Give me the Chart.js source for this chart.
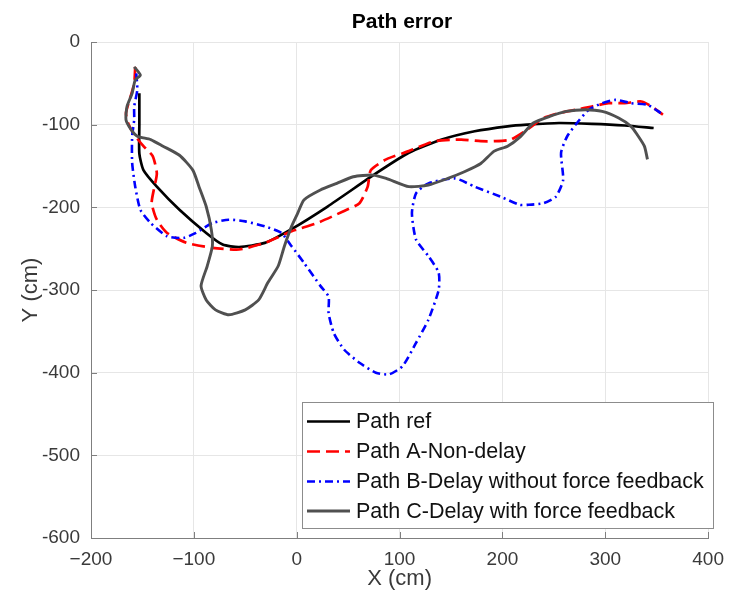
<!DOCTYPE html>
<html>
<head>
<meta charset="utf-8">
<title>Path error</title>
<script src="https://cdn.jsdelivr.net/npm/chart.js@4"></script>
<style>
    html, body { margin: 0; padding: 0; background: #fff; }
    #pathChart { display: block; }
</style>
</head>
<body>
<canvas id="pathChart" width="734" height="598"></canvas>
<script>
// Axis ticks and their labels (x uses the true minus sign, y a hyphen)
const xTicks = [-200, -100, 0, 100, 200, 300, 400];
const xTickLabels = ['\u2212200', '\u2212100', '0', '100', '200', '300', '400'];
const yTicks = [-600, -500, -400, -300, -200, -100, 0];
const yTickLabels = ['-600', '-500', '-400', '-300', '-200', '-100', '0'];

const seriesNames = [
    'Path ref',
    'Path A-Non-delay',
    'Path B-Delay without force feedback',
    'Path C-Delay with force feedback'
];

// [x, y] in cm
const pathRef = [
    [-153, -62], [-153, -100], [-153, -135], [-149, -155], [-136, -175], [-114, -203],
    [-88, -231], [-72, -245], [-56, -248], [-31, -243], [-6, -227], [30, -199],
    [77, -159], [109, -134], [141, -118], [173, -108], [205, -102], [224, -100],
    [255, -98], [287, -99], [319, -101], [347, -104]
];

const pathA = [
    [-157, -30], [-158, -50], [-162, -68], [-166, -86], [-164, -98], [-158, -112],
    [-149, -126], [-140, -138], [-136, -159], [-139, -179], [-141, -195], [-136, -215],
    [-126, -231], [-107, -243], [-82, -249], [-56, -251], [-31, -243], [-5, -229],
    [20, -219], [45, -205], [61, -195], [69, -175], [72, -155], [87, -142],
    [109, -132], [134, -120], [160, -118], [179, -120], [192, -120], [208, -118],
    [224, -106], [240, -92], [255, -86], [271, -82], [287, -78], [303, -74],
    [319, -74], [335, -72], [345, -78], [356, -88]
];

const pathB = [
    [-156, -38], [-155, -58], [-158, -78], [-158, -94], [-160, -114], [-160, -146],
    [-157, -175], [-152, -203], [-142, -219], [-126, -235], [-110, -237], [-98, -231],
    [-82, -219], [-66, -215], [-50, -217], [-31, -223], [-15, -231], [-5, -247],
    [7, -267], [23, -295], [31, -308], [31, -328], [36, -352], [46, -372],
    [61, -388], [77, -400], [90, -402], [103, -392], [116, -364], [128, -336],
    [138, -300], [138, -279], [128, -259], [116, -239], [112, -207], [116, -183],
    [128, -171], [154, -165], [173, -175], [198, -187], [217, -197], [224, -197],
    [240, -195], [252, -187], [259, -167], [257, -134], [263, -114], [275, -94],
    [284, -82], [297, -74], [310, -70], [325, -74], [341, -76], [354, -86]
];

const pathC = [
    [-158, -30], [-152, -40], [-157, -46], [-160, -62], [-165, -78], [-166, -94],
    [-161, -106], [-155, -114], [-142, -118], [-130, -126], [-114, -137], [-101, -155],
    [-95, -175], [-88, -199], [-83, -227], [-82, -247], [-87, -271], [-93, -295],
    [-88, -312], [-79, -324], [-66, -330], [-50, -324], [-37, -312], [-28, -291],
    [-18, -271], [-12, -247], [-5, -223], [1, -207], [7, -191], [23, -179],
    [39, -171], [55, -163], [74, -161], [87, -165], [109, -175], [128, -173],
    [147, -165], [163, -157], [179, -147], [192, -132], [205, -126], [217, -115],
    [230, -98], [246, -90], [262, -84], [281, -82], [297, -84], [313, -92],
    [325, -102], [331, -112], [338, -126], [341, -142]
];

const FONT = '"Liberation Sans", Arial, Helvetica, sans-serif';
const AXIS_COLOR = '#7f7f7f';
const TEXT_COLOR = '#3a3a3a';

const toPoints = arr => arr.map(([x, y]) => ({ x, y }));

const styles = [
    { color: '#000000', dash: [], width: 2.7 },
    { color: '#ff0000', dash: [13, 6], width: 2.7 },
    { color: '#0000ff', dash: [8, 4, 2, 4], width: 2.6 },
    { color: '#505050', dash: [], width: 2.9 }
];

const datasets = [pathRef, pathA, pathB, pathC].map((path, i) => ({
    label: seriesNames[i],
    data: toPoints(path),
    showLine: true,
    borderColor: styles[i].color,
    borderWidth: styles[i].width,
    borderDash: styles[i].dash,
    pointRadius: 0,
    tension: 0.2,
    fill: false,
    order: 3 - i // later paths drawn on top
}));

// Titles, inward ticks and the in-plot legend box
const decorations = {
    id: 'decorations',
    afterDraw(chart) {
        const { ctx, chartArea, scales } = chart;
        const { left, right, top, bottom } = chartArea;
        ctx.save();

        // inward tick marks
        ctx.strokeStyle = AXIS_COLOR;
        ctx.lineWidth = 1;
        ctx.beginPath();
        xTicks.forEach(v => {
            const px = Math.round(scales.x.getPixelForValue(v)) + 0.5;
            ctx.moveTo(px, bottom);
            ctx.lineTo(px, bottom - 6);
        });
        yTicks.forEach(v => {
            const py = Math.round(scales.y.getPixelForValue(v)) + 0.5;
            ctx.moveTo(left, py);
            ctx.lineTo(left + 6, py);
        });
        ctx.stroke();

        // chart title
        ctx.fillStyle = '#000';
        ctx.font = 'bold 21px ' + FONT;
        ctx.textAlign = 'center';
        ctx.textBaseline = 'middle';
        ctx.fillText('Path error', 402, 22);

        // axis titles
        ctx.fillStyle = TEXT_COLOR;
        ctx.font = '22px ' + FONT;
        ctx.fillText('X (cm)', (left + right) / 2, 579);
        ctx.save();
        ctx.translate(31, (top + bottom) / 2);
        ctx.rotate(-Math.PI / 2);
        ctx.fillText('Y (cm)', 0, 0);
        ctx.restore();

        // legend
        const box = { x: 302, y: 402.5, w: 411, h: 126 };
        ctx.fillStyle = '#fff';
        ctx.fillRect(box.x, box.y, box.w, box.h);
        ctx.strokeStyle = '#8c8c8c';
        ctx.lineWidth = 1;
        ctx.strokeRect(box.x + 0.5, box.y, box.w, box.h);

        const rows = [421.5, 451.5, 481.5, 511];
        ctx.font = '21.5px ' + FONT;
        ctx.textAlign = 'left';
        ctx.textBaseline = 'middle';
        seriesNames.forEach((name, i) => {
            ctx.strokeStyle = styles[i].color;
            ctx.lineWidth = styles[i].width;
            ctx.setLineDash(styles[i].dash);
            ctx.beginPath();
            ctx.moveTo(307, rows[i]);
            ctx.lineTo(350, rows[i]);
            ctx.stroke();
            ctx.setLineDash([]);
            ctx.fillStyle = '#111';
            ctx.fillText(name, 356, rows[i] + 1);
        });

        ctx.restore();
    }
};

const ctx = document.getElementById('pathChart').getContext('2d');

new Chart(ctx, {
    type: 'scatter',
    data: { datasets },
    options: {
        responsive: false,
        devicePixelRatio: 1,
        animation: false,
        layout: { padding: { top: 42, right: 16, left: 0, bottom: 0 } },
        plugins: {
            legend: { display: false },
            tooltip: { enabled: false },
            title: { display: false }
        },
        scales: {
            x: {
                type: 'linear',
                min: -200,
                max: 400,
                afterFit: scale => { scale.height = 60; },
                afterBuildTicks: scale => { scale.ticks = xTicks.map(v => ({ value: v })); },
                grid: { color: '#e6e6e6', lineWidth: 1, drawTicks: false },
                border: { display: true, color: AXIS_COLOR, width: 1 },
                ticks: {
                    padding: 10,
                    maxRotation: 0,
                    color: TEXT_COLOR,
                    font: { family: FONT, size: 19 },
                    callback: (val, i) => xTickLabels[i]
                }
            },
            y: {
                type: 'linear',
                min: -600,
                max: 0,
                afterFit: scale => { scale.width = 91; },
                afterBuildTicks: scale => { scale.ticks = yTicks.map(v => ({ value: v })); },
                grid: { color: '#e6e6e6', lineWidth: 1, drawTicks: false },
                border: { display: true, color: AXIS_COLOR, width: 1 },
                ticks: {
                    padding: 11,
                    color: TEXT_COLOR,
                    font: { family: FONT, size: 19 },
                    callback: (val, i) => yTickLabels[i]
                }
            }
        }
    },
    plugins: [decorations]
});
</script>
</body>
</html>
